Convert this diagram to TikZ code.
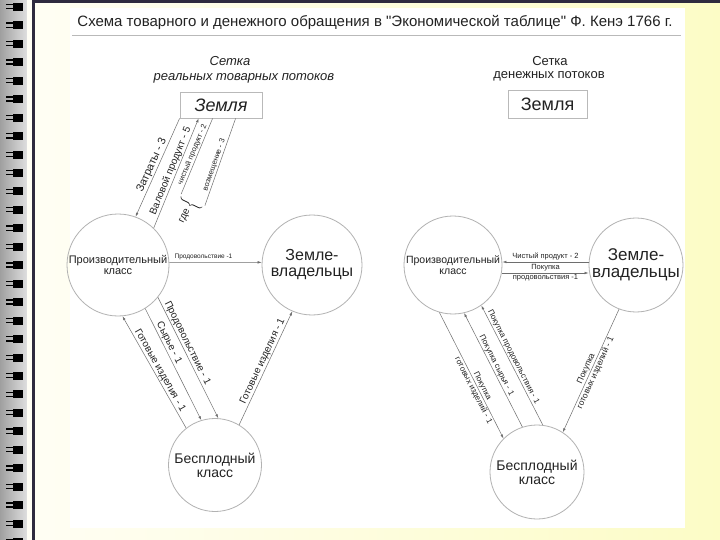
\documentclass[tikz,border=0pt]{standalone}
\usepackage{fontspec}
\setmainfont{Liberation Sans}
\usetikzlibrary{arrows.meta,calc}
\newcommand{\fsz}[1]{\fontsize{#1}{#1}\selectfont}
\definecolor{cream}{HTML}{FFFEF4}
\definecolor{paleyellow}{HTML}{FCFCC6}
\definecolor{borderc}{HTML}{2E2A3F}
\definecolor{ink}{HTML}{222222}
\definecolor{linec}{HTML}{6E6E6E}
\tikzset{
  circ/.style={circle, draw=gray!60, line width=0.8pt, inner sep=0pt, align=center, text=ink},
  zbox/.style={draw=gray!55, line width=0.8pt, fill=white, inner sep=0pt, text=ink},
  flow/.style={draw=linec, line width=0.5pt, -{Latex[length=4pt,width=2.6pt]}},
  plainline/.style={draw=linec, line width=0.5pt},
  lab/.style={sloped, inner sep=1pt, text=ink},
}
\begin{document}
\begin{tikzpicture}[x=1pt,y=-1pt]
\useasboundingbox (0,0) rectangle (720,540);
% page background
\shade[left color=cream, right color=paleyellow] (32,0) rectangle (720,540);
\fill[white] (70,8) rectangle (685,528);
\fill[borderc] (32,0) rectangle (720,3);
\fill[borderc] (32,0) rectangle (34.5,540);
% spiral binding
\shade[left color=gray!75, right color=gray!25] (0,0) rectangle (27,540);
\fill[white!96!yellow] (27,0) rectangle (32,540);
\foreach \i in {0,...,29}{
  \pgfmathsetmacro{\yy}{7+18.45*\i}
  \fill[black] (13,\yy-4) rectangle (23,\yy+4);
  \draw[black, line width=1.3pt] (6,\yy-2.3) -- (13,\yy-2.3);
  \draw[black, line width=1.3pt] (6,\yy+1.8) -- (13,\yy+1.8);
}
% title
\node[font=\fsz{15}, text=ink] (title) at (375,22) {Схема товарного и денежного обращения в \textquotedbl Экономической таблице\textquotedbl{} Ф. Кенэ 1766 г.};
\draw[gray!55, line width=0.8pt] (72,35) -- (681,35);

% ---------- left diagram ----------
\node[font=\itshape\fsz{13}, text=ink] (s1) at (230,61) {Сетка};
\node[font=\itshape\fsz{13}, text=ink] (s2) at (244,78) {реальных товарных потоков};
\node[zbox, font=\itshape\fsz{18}, minimum width=82pt, minimum height=26pt] (Z1) at (221,105) {Земля};
\node[circ, minimum size=102pt, font=\fsz{11}] (P1) at (118,265) {Производительный\\класс};
\node[circ, minimum size=100pt, font=\fsz{16}] (L1) at (312,265) {Земле-\\владельцы};
\node[circ, minimum size=93pt, font=\fsz{14}] (B1) at (215,465) {Бесплодный\\класс};

\draw[flow] (P1.3) -- (L1.177) node[pos=0.37, above, inner sep=2pt, font=\fsz{6.5}, text=ink] {Продовольствие -1};

\draw[flow] (Z1.south west) -- (P1.70) node[lab, pos=0.5, above, font=\fsz{11}] {Затраты - 3};
\draw[flow] (P1.46) -- ($(Z1.south west)+(19,0)$) node[lab, pos=0.5, above, font=\fsz{10}] {Валовой продукт - 5};

\node[rotate=64, inner sep=0pt] (br) at (191,204) {$\left\{\vcenter{\vbox to 26pt{}}\right.$};
\node[rotate=64, anchor=east, inner sep=1.5pt, font=\fsz{10}, text=ink] (gde) at (br.west) {где};
\draw[plainline] (br.north east) -- ($(Z1.south west)+(33,0)$) node[lab, pos=0.5, above, font=\fsz{7.5}] {чистый продукт - 2};
\draw[plainline] (br.south east) -- ($(Z1.south west)+(56,0)$) node[lab, pos=0.45, above, font=\fsz{7.5}] {возмещение - 3};

\draw[flow] (B1.128) -- (P1.275) node[lab, pos=0.49, above, font=\fsz{10}] {Готовые изделия - 1};
\draw[flow] (P1.302) -- (B1.107) node[lab, pos=0.33, above, font=\fsz{10}] {Сырье - 1};
\draw[flow] (P1.321) -- (B1.86) node[lab, pos=0.4, above, font=\fsz{10}] {Продовольствие - 1};
\draw[flow] (B1.59) -- (L1.247) node[lab, pos=0.54, above, font=\fsz{10}] {Готовые изделия - 1};

% ---------- right diagram ----------
\node[font=\fsz{13}, text=ink] (s3) at (550,61) {Сетка};
\node[font=\fsz{13}, text=ink] (s4) at (549,76) {денежных потоков};
\node[zbox, font=\fsz{18}, minimum width=79pt, minimum height=28pt] (Z2) at (547.5,104) {Земля};
\node[circ, minimum size=98pt, font=\fsz{10.5}] (P2) at (453,265) {Производительный\\класс};
\node[circ, minimum size=94pt, font=\fsz{17}] (L2) at (636,265) {Земле-\\владельцы};
\node[circ, minimum size=94pt, font=\fsz{14}] (B2) at (537,472) {Бесплодный\\класс};

\draw[flow] ($(L2.west)+(0,-3)$) -- ($(P2.east)+(0,-3)$) node[pos=0.5, above, inner sep=1.5pt, font=\fsz{7.5}, text=ink] {Чистый продукт - 2};
\draw[flow] ($(P2.east)+(0,8)$) -- ($(L2.west)+(0,8)$)
  node[pos=0.5, above, inner sep=1.5pt, font=\fsz{7.5}, text=ink] {Покупка}
  node[pos=0.5, below, inner sep=1.5pt, font=\fsz{7.5}, text=ink] {продовольствия -1};

\draw[flow] (P2.254) -- (B2.135)
  node[lab, pos=0.6, above, font=\fsz{8}] {Покупка}
  node[lab, pos=0.6, below, font=\fsz{8}] {готовых изделий - 1};
\draw[flow] (B2.108) -- (P2.283) node[lab, pos=0.52, above, font=\fsz{8}] {Покупка сырья - 1};
\draw[flow] (B2.83) -- (P2.305) node[lab, pos=0.55, above, font=\fsz{8}] {Покупка продовольствия - 1};
\draw[flow] (L2.249) -- (B2.57)
  node[lab, pos=0.5, above, font=\fsz{8.5}] {Покупка}
  node[lab, pos=0.5, below, font=\fsz{8.5}] {готовых изделий - 1};
\end{tikzpicture}
\end{document}
